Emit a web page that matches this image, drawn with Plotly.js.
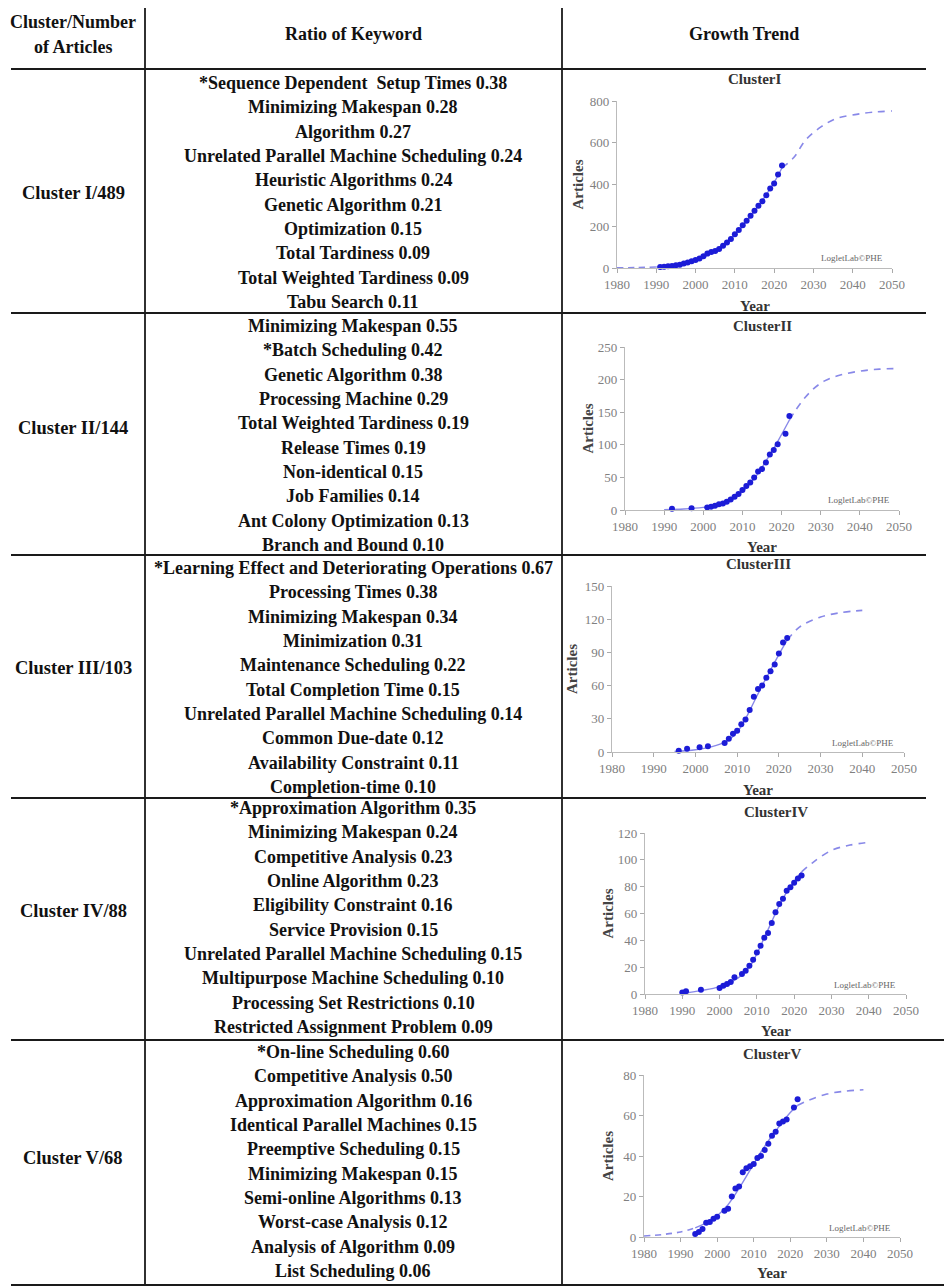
<!DOCTYPE html>
<html><head><meta charset="utf-8">
<script src="https://cdn.plot.ly/plotly-3.0.1.min.js"></script>
<style>html,body{margin:0;padding:0;background:#fff;}#chart{width:944px;height:1286px;}</style>
</head><body><div id="chart"></div>
<script>
const W = 944, H = 1286;

// ---------- table text ----------
const headerCol1 = ["Cluster/Number", "of Articles"];
const headerCol2 = "Ratio of Keyword";
const headerCol3 = "Growth Trend";
const clusterLabels = ["Cluster I/489", "Cluster II/144", "Cluster III/103", "Cluster IV/88", "Cluster V/68"];
const chartTitles = ["ClusterI", "ClusterII", "ClusterIII", "ClusterIV", "ClusterV"];

const keywords1 = ["*Sequence Dependent\u00A0 Setup Times 0.38", "Minimizing Makespan 0.28", "Algorithm 0.27", "Unrelated Parallel Machine Scheduling 0.24", "Heuristic Algorithms 0.24", "Genetic Algorithm 0.21", "Optimization 0.15", "Total Tardiness 0.09", "Total Weighted Tardiness 0.09", "Tabu Search 0.11"];
const keywords2 = ["Minimizing Makespan 0.55", "*Batch Scheduling 0.42", "Genetic Algorithm 0.38", "Processing Machine 0.29", "Total Weighted Tardiness 0.19", "Release Times 0.19", "Non-identical 0.15", "Job Families 0.14", "Ant Colony Optimization 0.13", "Branch and Bound 0.10"];
const keywords3 = ["*Learning Effect and Deteriorating Operations 0.67", "Processing Times 0.38", "Minimizing Makespan 0.34", "Minimization 0.31", "Maintenance Scheduling 0.22", "Total Completion Time 0.15", "Unrelated Parallel Machine Scheduling 0.14", "Common Due-date 0.12", "Availability Constraint 0.11", "Completion-time 0.10"];
const keywords4 = ["*Approximation Algorithm 0.35", "Minimizing Makespan 0.24", "Competitive Analysis 0.23", "Online Algorithm 0.23", "Eligibility Constraint 0.16", "Service Provision 0.15", "Unrelated Parallel Machine Scheduling 0.15", "Multipurpose Machine Scheduling 0.10", "Processing Set Restrictions 0.10", "Restricted Assignment Problem 0.09"];
const keywords5 = ["*On-line Scheduling 0.60", "Competitive Analysis 0.50", "Approximation Algorithm 0.16", "Identical Parallel Machines 0.15", "Preemptive Scheduling 0.15", "Minimizing Makespan 0.15", "Semi-online Algorithms 0.13", "Worst-case Analysis 0.12", "Analysis of Algorithm 0.09", "List Scheduling 0.06"];

// ---------- chart data ----------
const xTicks = [1980, 1990, 2000, 2010, 2020, 2030, 2040, 2050];
const yTicks1 = [0, 200, 400, 600, 800];
const yTicks2 = [0, 50, 100, 150, 200, 250];
const yTicks3 = [0, 30, 60, 90, 120, 150];
const yTicks4 = [0, 20, 40, 60, 80, 100, 120];
const yTicks5 = [0, 20, 40, 60, 80];

const years1 = [1991,1992,1993,1994,1995,1996,1997,1998,1999,2000,2001,2002,2003,2004,2005,2006,2007,2008,2009,2010,2011,2012,2013,2014,2015,2016,2017,2018,2019,2020,2021,2022];
const articles1 = [5,6,8,10,13,16,21,26,32,38,46,56,69,77,82,91,106,122,139,162,182,205,226,250,274,298,320,349,381,405,448,491];
const fitPreYears1 = [1980, 1985, 1990];
const fitPre1 = [1, 2, 5];
const fitYears1 = [1990, 1995, 2000, 2005, 2010, 2015, 2020, 2022];
const fit1 = [5, 13, 38, 85, 160, 272, 410, 480];
const fitPostYears1 = [2022, 2025, 2028, 2032, 2036, 2041, 2045, 2050];
const fitPost1 = [480, 529, 613, 677, 717, 736, 746, 752];

const years2 = [1992,1997,2001,2002,2003,2004,2005,2006,2007,2008,2009,2010,2011,2012,2013,2014,2015,2016,2017,2018,2019,2021,2022];
const articles2 = [2,2.5,4,5,6.6,8.7,10,12.8,16,20.5,24.6,30.7,37,42,50,59,63,73,85,92,101,117,144];
const fitYears2 = [1990, 1995, 2000, 2005, 2010, 2013, 2016, 2019, 2022];
const fit2 = [0.5, 1.5, 4, 9, 28, 48, 75, 105, 138];
const fitPostYears2 = [2022, 2025, 2028, 2031, 2035, 2040, 2045, 2050];
const fitPost2 = [138, 165, 185, 198, 207, 213, 216, 217];

const years3 = [1996,1998,2001,2003,2007,2008,2009,2010,2011,2012,2013,2014,2015,2016,2017,2018,2019,2020,2021,2022];
const articles3 = [1.2,3,4.2,5.1,8.1,12,16.5,19.2,25,29.4,38,50,57,60,67,73,79,89,99,103];
const fitYears3 = [1995, 2000, 2005, 2008, 2010, 2012, 2014, 2016, 2018, 2020, 2022];
const fit3 = [0.5, 2, 6, 11, 18, 30, 45, 60, 74, 88, 101];
const fitPostYears3 = [2022, 2025, 2030, 2035, 2040];
const fitPost3 = [101, 113, 122, 126, 128];

const years4 = [1990,1991,1995,2000,2001,2002,2003,2004,2006,2007,2008,2009,2010,2011,2012,2013,2014,2015,2016,2017,2018,2019,2020,2021,2022];
const articles4 = [1.2,2,3.2,4.5,6.2,7.5,9,12.4,15,17.4,21,25.6,31,36,42,45.5,53,61,67,71,77,79.5,83,86,88.4];
const fitYears4 = [1990, 1995, 2000, 2005, 2008, 2010, 2012, 2014, 2016, 2018, 2020, 2022];
const fit4 = [0.5, 2.5, 5.5, 12, 20, 30, 42, 54, 66, 76, 84, 91];
const fitPostYears4 = [2022, 2025, 2030, 2035, 2040];
const fitPost4 = [91, 98, 107, 111, 113];

const years5 = [1994,1995,1996,1997,1998,1999,2000,2002,2003,2004,2005,2006,2007,2008,2009,2010,2011,2012,2013,2014,2015,2016,2017,2018,2019,2021,2022];
const articles5 = [1.5,2.5,4,7,7.4,9,10,13,14,20,24,25,32,34,35,36,39,40,43,46,50,52,56,57,58,64,68];
const fitPreYears5 = [1980, 1985, 1990, 1994];
const fitPre5 = [0.5, 1.2, 2.5, 4.5];
const fitYears5 = [1994, 1997, 2000, 2003, 2006, 2009, 2012, 2015, 2018, 2020, 2022];
const fit5 = [4.5, 7, 10.5, 16, 24, 33, 42, 50, 57, 61.5, 65];
const fitPostYears5 = [2022, 2025, 2030, 2035, 2040];
const fitPost5 = [65, 67.5, 70.6, 72, 72.7];

// ---------- layout geometry (pixels) ----------
const colLines = [145, 562];
const rowLines = [69, 313, 555, 798, 1040];
const FONT = "Liberation Serif, Times New Roman, serif";
const px = x => x / W;
const py = y => 1 - y / H;

const charts = [
  {x0:617, x1:892, yb:268, yt:101, yT:yTicks1, ymax:800, yr:years1, ar:articles1, pre:[fitPreYears1, fitPre1], fit:[fitYears1, fit1], post:[fitPostYears1, fitPost1], titleY:79, artX:577, yearY:306, logo:[885,258]},
  {x0:625, x1:899, yb:510, yt:347, yT:yTicks2, ymax:250, yr:years2, ar:articles2, pre:null, fit:[fitYears2, fit2], post:[fitPostYears2, fitPost2], titleY:326, artX:587, yearY:547, logo:[892,500]},
  {x0:612, x1:904, yb:752, yt:586, yT:yTicks3, ymax:150, yr:years3, ar:articles3, pre:null, fit:[fitYears3, fit3], post:[fitPostYears3, fitPost3], titleY:564, artX:572, yearY:790, logo:[896,743]},
  {x0:645, x1:906, yb:994, yt:833, yT:yTicks4, ymax:120, yr:years4, ar:articles4, pre:null, fit:[fitYears4, fit4], post:[fitPostYears4, fitPost4], titleY:812, artX:608, yearY:1031, logo:[898,985]},
  {x0:644, x1:900, yb:1237, yt:1075, yT:yTicks5, ymax:80, yr:years5, ar:articles5, pre:[fitPreYears5, fitPre5], fit:[fitYears5, fit5], post:[fitPostYears5, fitPost5], titleY:1054, artX:608, yearY:1273, logo:[893,1228]}
];

const traces = [];
const layout = {
  width: W, height: H,
  margin: {l:0, r:0, t:0, b:0, pad:0},
  paper_bgcolor: "#fff", plot_bgcolor: "#fff",
  showlegend: false,
  font: {family: FONT},
  shapes: [], annotations: []
};

const lineCol = "rgba(115,115,228,0.85)";
const dotCol = "rgb(28,28,215)";

charts.forEach((c, i) => {
  const n = i === 0 ? "" : String(i + 1);
  const xa = "x" + n, ya = "y" + n;
  layout["xaxis" + n] = {
    domain: [px(c.x0), px(c.x1)], range: [1980, 2050], anchor: ya,
    tickvals: xTicks, ticks: "outside", ticklen: 4, tickcolor: "#aaa", tickwidth: 1,
    showline: true, linecolor: "#bbb", linewidth: 1.2, showgrid: false, zeroline: false,
    tickfont: {family: FONT, size: 13, color: "#808080"}, fixedrange: true
  };
  layout["yaxis" + n] = {
    domain: [py(c.yb), py(c.yt)], range: [0, c.ymax], anchor: xa,
    tickvals: c.yT, ticks: "outside", ticklen: 4, tickcolor: "#aaa", tickwidth: 1,
    showline: true, linecolor: "#bbb", linewidth: 1.2, showgrid: false, zeroline: false,
    tickfont: {family: FONT, size: 13, color: "#808080"}, fixedrange: true
  };
  if (c.pre) traces.push({x: c.pre[0], y: c.pre[1], xaxis: xa, yaxis: ya, mode: "lines", line: {color: lineCol, width: 1.6, dash: "6px,5px", shape: "spline"}, hoverinfo: "skip"});
  traces.push({x: c.fit[0], y: c.fit[1], xaxis: xa, yaxis: ya, mode: "lines", line: {color: lineCol, width: 1.4, shape: "spline"}, hoverinfo: "skip"});
  traces.push({x: c.post[0], y: c.post[1], xaxis: xa, yaxis: ya, mode: "lines", line: {color: lineCol, width: 1.6, dash: "7px,6px", shape: "spline"}, hoverinfo: "skip"});
  traces.push({x: c.yr, y: c.ar, xaxis: xa, yaxis: ya, mode: "markers", marker: {color: dotCol, size: 6}, cliponaxis: false});

  const cx = (c.x0 + c.x1) / 2;
  layout.annotations.push({xref:"paper", yref:"paper", x: px(cx), y: py(c.titleY), text: "<b>" + chartTitles[i] + "</b>", showarrow:false, xanchor:"center", yanchor:"middle", font:{family:FONT, size:15, color:"#333"}});
  layout.annotations.push({xref:"paper", yref:"paper", x: px(c.artX), y: py((c.yb + c.yt) / 2), text: "<b>Articles</b>", textangle: -90, showarrow:false, xanchor:"center", yanchor:"middle", font:{family:FONT, size:15, color:"#444"}});
  layout.annotations.push({xref:"paper", yref:"paper", x: px(cx), y: py(c.yearY), text: "<b>Year</b>", showarrow:false, xanchor:"center", yanchor:"middle", font:{family:FONT, size:15, color:"#333"}});
  layout.annotations.push({xref:"paper", yref:"paper", x: px(c.logo[0]), y: py(c.logo[1]), text: "LogletLab\u00A9PHE", showarrow:false, xanchor:"right", yanchor:"middle", font:{family:FONT, size:9, color:"#666"}});
});

// ---------- table lines ----------
const lineStyle = {color: "#1a1a1a", width: 2};
colLines.forEach(x => layout.shapes.push({type:"line", xref:"paper", yref:"paper", x0:px(x), x1:px(x), y0:py(8), y1:py(1286), line:{color:"#1a1a1a", width:1.8}}));
rowLines.forEach((y, k) => layout.shapes.push({type:"line", xref:"paper", yref:"paper", x0:px(11), x1:px(k === 4 ? 944 : 926), y0:py(y), y1:py(y), line:lineStyle}));
layout.shapes.push({type:"line", xref:"paper", yref:"paper", x0:px(11), x1:px(944), y0:py(1285), y1:py(1285), line:lineStyle});

// ---------- table text ----------
function txt(x, y, t, size) {
  layout.annotations.push({xref:"paper", yref:"paper", x:px(x), y:py(y), text:"<b>" + t + "</b>", showarrow:false, xanchor:"center", yanchor:"middle", font:{family:FONT, size:size || 18, color:"#111"}});
}
txt(73, 22, headerCol1[0]);
txt(73, 47, headerCol1[1]);
txt(353, 34, headerCol2);
txt(744, 34, headerCol3);

const kwLists = [keywords1, keywords2, keywords3, keywords4, keywords5];
const kwFirstY = [83, 326, 568, 808, 1052];
const labelY = [193, 428, 668, 911, 1158];
kwLists.forEach((list, r) => {
  list.forEach((k, j) => txt(353, kwFirstY[r] + j * 24.35, k));
  txt(73, labelY[r], clusterLabels[r], 18.5);
});

Plotly.newPlot("chart", traces, layout, {staticPlot: true, displayModeBar: false});
</script>
</body></html>
